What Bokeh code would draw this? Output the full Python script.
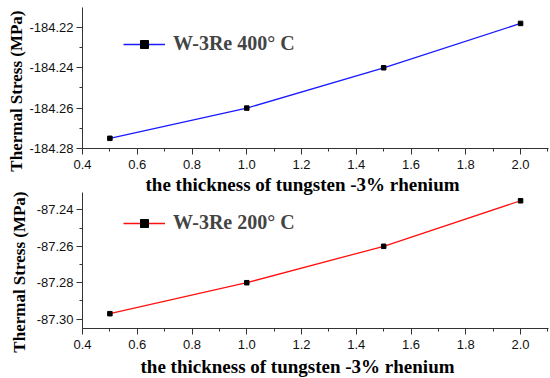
from bokeh.plotting import figure
from bokeh.layouts import column
from bokeh.models import (Range1d, SingleIntervalTicker, PrintfTickFormatter,
                          Legend, LegendItem, Title)
from bokeh.embed import file_html
from bokeh.resources import INLINE

thickness = [0.5, 1.0, 1.5, 2.0]
stress_400 = [-184.275, -184.260, -184.240, -184.218]
stress_200 = [-87.297, -87.280, -87.260, -87.235]
label_400 = "W-3Re 400° C"
label_200 = "W-3Re 200° C"
x_label = "the thickness of tungsten -3% rhenium"
y_label = "Thermal Stress (MPa)"

X_RANGE = (0.4, 2.102)
SERIF = "Liberation Serif"


def axis_title(text, size, standoff, offset, align):
    return Title(text=text, align=align, text_font=SERIF, text_font_style="bold",
                 text_font_size=size, text_color="black", standoff=standoff,
                 offset=offset)


def make_panel(ys, yr, color, label, height, top_border, bottom_border, legend_y,
               ylab_standoff, ylab_offset):
    p = figure(width=550, height=height, output_backend="svg", toolbar_location=None,
               x_range=Range1d(*X_RANGE), y_range=Range1d(*yr),
               min_border_left=82, min_border_right=2, min_border_top=top_border,
               min_border_bottom=bottom_border)
    p.outline_line_color = None
    p.xgrid.visible = False
    p.ygrid.visible = False

    p.xaxis.ticker = SingleIntervalTicker(interval=0.2, num_minor_ticks=2)
    p.yaxis.ticker = SingleIntervalTicker(interval=0.02, num_minor_ticks=2)
    p.xaxis.formatter = PrintfTickFormatter(format="%.1f")
    p.yaxis.formatter = PrintfTickFormatter(format="%.2f")
    for ax in (p.xaxis, p.yaxis):
        ax.axis_line_color = "#333333"
        ax.major_tick_line_color = "#333333"
        ax.minor_tick_line_color = "#333333"
        ax.major_tick_out = 6
        ax.major_tick_in = 0
        ax.minor_tick_out = 3
        ax.minor_tick_in = 0
        ax.major_label_text_font = "Liberation Sans"
        ax.major_label_text_font_size = "13px"
        ax.major_label_text_color = "#111111"
        ax.major_label_standoff = 3
    p.xaxis.major_label_standoff = 5

    p.add_layout(axis_title(y_label, "17px", ylab_standoff, ylab_offset, "right"), "left")

    ln = p.line(thickness, ys, line_color=color, line_width=1.3)
    sc = p.scatter(thickness, ys, marker="square", size=4.5, fill_color="black",
                   line_color="black")
    leg = Legend(items=[LegendItem(label=label, renderers=[ln, sc])],
                 location=(41, legend_y), glyph_width=42, glyph_height=20,
                 label_text_font=SERIF, label_text_font_style="bold",
                 label_text_font_size="20px", label_standoff=8,
                 padding=0, margin=0, border_line_color=None,
                 background_fill_alpha=0)
    p.add_layout(leg)
    return p


top = make_panel(stress_400, (-184.28005, -184.2101), "#1a1aff", label_400,
                 174, 7, 26, 93, 2, 3)
bottom = make_panel(stress_200, (-87.30514, -87.23047), "#ff1010", label_200,
                    204, 15, 48, 94, 9, -1)

# x-axis title of the upper panel sits just above the lower panel's frame
bottom.add_layout(axis_title(x_label, "19px", -5, 63, "left"), "above")
# x-axis title of the lower panel
bottom.add_layout(axis_title(x_label, "19px", 4, 58, "left"), "below")

layout = column(top, bottom, spacing=0)
open("out.html", "w").write(file_html(layout, INLINE))
